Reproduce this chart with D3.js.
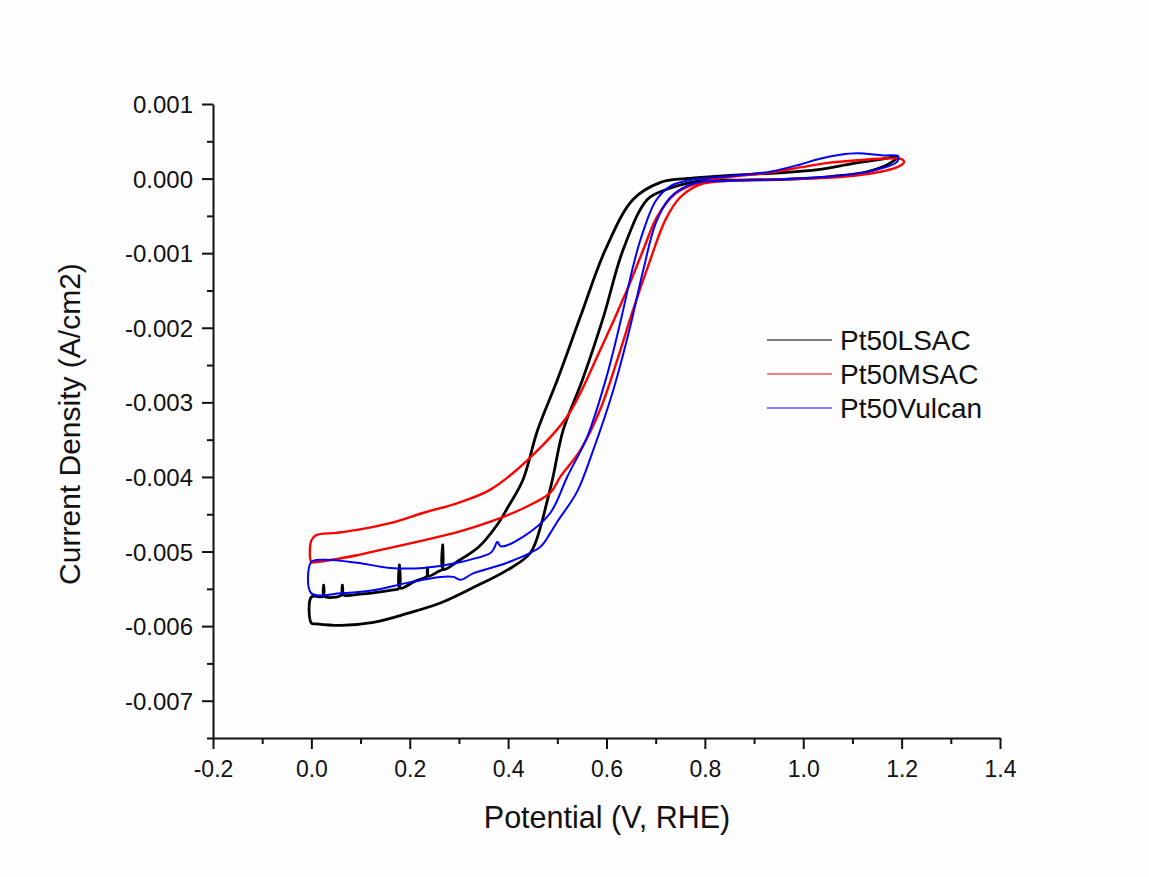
<!DOCTYPE html>
<html>
<head>
<meta charset="utf-8">
<script src="https://cdn.jsdelivr.net/npm/d3@7"></script>
<style>
  html, body { margin: 0; padding: 0; background: #fdfdfd; }
  svg { display: block; }
  text { font-family: "Liberation Sans", Arial, sans-serif; fill: #111; }
</style>
</head>
<body>
<div id="chart"></div>
<script>
// sample names / colours (legend order)
const sampleNames = ["Pt50LSAC", "Pt50MSAC", "Pt50Vulcan"];
const sampleColors = ["#000000", "#ff0000", "#0000ff"];
const sampleWidths = [2.8, 2.4, 2];

// CV loops: [potential V vs RHE, current density A/cm2]
const lsacLoop = [
  [0.000,-0.00561],[0.024,-0.00560],[0.025,-0.00545],[0.026,-0.00560],
  [0.062,-0.00558],[0.063,-0.00545],[0.064,-0.00558],[0.100,-0.00557],
  [0.160,-0.00552],[0.178,-0.00549],[0.179,-0.00518],[0.180,-0.00549],
  [0.210,-0.00540],[0.235,-0.00533],[0.236,-0.00522],[0.237,-0.00533],
  [0.260,-0.00526],[0.266,-0.00524],[0.267,-0.00491],[0.268,-0.00524],
  [0.300,-0.00512],[0.340,-0.00494],[0.380,-0.00462],[0.400,-0.00440],
  [0.430,-0.00404],[0.460,-0.00337],[0.500,-0.00270],[0.547,-0.00185],
  [0.598,-0.00095],[0.654,-0.00028],[0.710,-0.00005],[0.760,0.00000],
  [0.820,0.00003],[0.900,0.00006],[0.960,0.00008],[1.030,0.00012],
  [1.100,0.00020],[1.160,0.00026],[1.190,0.00029],[1.180,0.00022],
  [1.130,0.00009],[1.060,0.00003],[0.960,-0.00001],[0.860,-0.00002],
  [0.790,-0.00003],[0.720,-0.00015],[0.683,-0.00028],[0.634,-0.00095],
  [0.594,-0.00185],[0.551,-0.00270],[0.512,-0.00337],[0.490,-0.00404],
  [0.475,-0.00444],[0.468,-0.00462],[0.445,-0.00502],[0.398,-0.00525],
  [0.330,-0.00548],[0.262,-0.00569],[0.195,-0.00583],[0.126,-0.00595],
  [0.060,-0.00599],[0.010,-0.00597],[0.000,-0.00596]
];

const msacLoop = [
  [0.000,-0.00514],[0.000,-0.00485],[0.010,-0.00478],[0.050,-0.00475],
  [0.093,-0.00471],[0.160,-0.00462],[0.228,-0.00448],[0.297,-0.00435],
  [0.364,-0.00417],[0.440,-0.00377],[0.520,-0.00319],[0.587,-0.00230],
  [0.642,-0.00149],[0.675,-0.00095],[0.703,-0.00051],[0.740,-0.00020],
  [0.776,-0.00008],[0.825,0.00000],[0.930,0.00008],[0.994,0.00015],
  [1.050,0.00021],[1.120,0.00025],[1.170,0.00027],[1.200,0.00026],
  [1.205,0.00022],[1.190,0.00015],[1.130,0.00006],[1.050,0.00001],
  [0.950,-0.00001],[0.850,-0.00003],[0.790,-0.00008],[0.750,-0.00025],
  [0.720,-0.00055],[0.689,-0.00109],[0.654,-0.00176],[0.622,-0.00243],
  [0.587,-0.00310],[0.547,-0.00364],[0.506,-0.00400],[0.486,-0.00421],
  [0.431,-0.00442],[0.364,-0.00460],[0.297,-0.00474],[0.228,-0.00485],
  [0.160,-0.00495],[0.093,-0.00505],[0.010,-0.00514]
];

const vulcanLoop = [
  [0.000,-0.00514],[0.025,-0.00511],[0.093,-0.00515],[0.160,-0.00522],
  [0.228,-0.00522],[0.297,-0.00515],[0.364,-0.00502],[0.372,-0.00495],
  [0.378,-0.00487],[0.385,-0.00493],[0.431,-0.00480],[0.486,-0.00448],
  [0.520,-0.00400],[0.561,-0.00346],[0.600,-0.00266],[0.628,-0.00193],
  [0.654,-0.00118],[0.670,-0.00080],[0.700,-0.00030],[0.730,-0.00010],
  [0.770,-0.00002],[0.830,0.00002],[0.930,0.00009],[0.994,0.00019],
  [1.030,0.00026],[1.075,0.00032],[1.110,0.00034],[1.163,0.00031],
  [1.193,0.00030],[1.190,0.00022],[1.130,0.00009],[1.060,0.00003],
  [0.960,-0.00001],[0.850,-0.00003],[0.780,-0.00006],[0.730,-0.00025],
  [0.700,-0.00060],[0.675,-0.00122],[0.648,-0.00199],[0.614,-0.00283],
  [0.573,-0.00364],[0.540,-0.00420],[0.500,-0.00460],[0.486,-0.00475],
  [0.465,-0.00494],[0.398,-0.00515],[0.330,-0.00529],[0.303,-0.00538],
  [0.289,-0.00534],[0.262,-0.00534],[0.195,-0.00542],[0.126,-0.00552],
  [0.060,-0.00556],[0.000,-0.00556]
];

const loops = [lsacLoop, msacLoop, vulcanLoop];

// ticks
const xTicks = [-0.2, 0.0, 0.2, 0.4, 0.6, 0.8, 1.0, 1.2, 1.4];
const xMinorTicks = [-0.1, 0.1, 0.3, 0.5, 0.7, 0.9, 1.1, 1.3];
const yTicks = [0.001, 0.000, -0.001, -0.002, -0.003, -0.004, -0.005, -0.006, -0.007];
const yMinorTicks = [0.0005, -0.0005, -0.0015, -0.0025, -0.0035, -0.0045, -0.0055, -0.0065, -0.0075];

const width = 1149, height = 877;

const svg = d3.select("#chart").append("svg")
  .attr("width", width)
  .attr("height", height);

const x = d3.scaleLinear().domain([-0.2, 1.4]).range([213, 1000]);
const y = d3.scaleLinear().domain([-0.0075, 0.001]).range([738, 104]);

// curves
const line = d3.line()
  .x(d => x(d[0]))
  .y(d => y(d[1]))
  .curve(d3.curveCatmullRomClosed.alpha(0.5));

svg.append("g").selectAll("path")
  .data(loops)
  .join("path")
  .attr("d", d => line(d))
  .attr("fill", "none")
  .attr("stroke", (d, i) => sampleColors[i])
  .attr("stroke-width", (d, i) => sampleWidths[i])
  .attr("stroke-linejoin", "round");

// axes
const xAxis = svg.append("g")
  .attr("transform", `translate(0,${y(-0.0075)})`)
  .call(d3.axisBottom(x).tickValues(xTicks).tickSize(11).tickSizeOuter(0)
    .tickFormat(d => d.toFixed(1)));
svg.append("g")
  .attr("transform", `translate(0,${y(-0.0075)})`)
  .call(d3.axisBottom(x).tickValues(xMinorTicks).tickSize(6).tickSizeOuter(0).tickFormat(""))
  .call(g => g.select(".domain").remove());

const yAxis = svg.append("g")
  .attr("transform", `translate(${x(-0.2)},0)`)
  .call(d3.axisLeft(y).tickValues(yTicks).tickSize(11).tickSizeOuter(0)
    .tickFormat(d => d.toFixed(3)));
svg.append("g")
  .attr("transform", `translate(${x(-0.2)},0)`)
  .call(d3.axisLeft(y).tickValues(yMinorTicks).tickSize(6).tickSizeOuter(0).tickFormat(""))
  .call(g => g.select(".domain").remove());

svg.selectAll(".domain, .tick line")
  .attr("stroke", "#111")
  .attr("stroke-width", 2);

xAxis.selectAll(".tick text")
  .attr("font-size", 23)
  .attr("font-family", "Liberation Sans, Arial, sans-serif")
  .attr("fill", "#111")
  .attr("dy", null)
  .attr("y", 39);

yAxis.selectAll(".tick text")
  .attr("font-size", 24)
  .attr("font-family", "Liberation Sans, Arial, sans-serif")
  .attr("fill", "#111")
  .attr("x", -20)
  .attr("dy", "0.36em");

// axis titles
svg.append("text")
  .attr("x", 607)
  .attr("y", 828)
  .attr("text-anchor", "middle")
  .attr("font-size", 30.5)
  .text("Potential (V, RHE)");

svg.append("text")
  .attr("transform", "translate(80,424) rotate(-90)")
  .attr("text-anchor", "middle")
  .attr("font-size", 30)
  .text("Current Density (A/cm2)");

// legend
const legend = svg.append("g");
const legendItems = legend.selectAll("g")
  .data(sampleNames)
  .join("g")
  .attr("transform", (d, i) => `translate(0,${340 + i * 34})`);
legendItems.append("line")
  .attr("x1", 767).attr("x2", 832)
  .attr("y1", 0).attr("y2", 0)
  .attr("stroke", (d, i) => sampleColors[i])
  .attr("stroke-width", 1.2);
legendItems.append("text")
  .attr("x", 840)
  .attr("y", 10)
  .attr("font-size", 28)
  .text(d => d);
</script>
</body>
</html>
